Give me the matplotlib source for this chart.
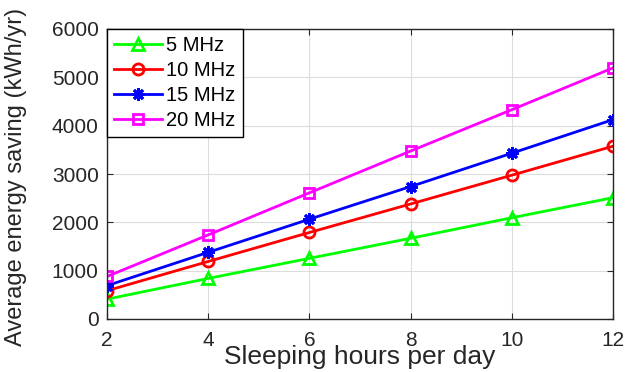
import matplotlib
matplotlib.use('Agg')
import matplotlib.pyplot as plt

plt.rcParams['font.family'] = ['Liberation Sans', 'DejaVu Sans']

hours = [2, 4, 6, 8, 10, 12]
saving_5 = [410, 840, 1255, 1670, 2095, 2510]
saving_10 = [585, 1190, 1790, 2380, 2975, 3575]
saving_15 = [690, 1380, 2065, 2740, 3430, 4125]
saving_20 = [880, 1740, 2610, 3475, 4330, 5195]
labels = ['5 MHz', '10 MHz', '15 MHz', '20 MHz']

fig = plt.figure(figsize=(6.43, 3.72), dpi=100)
ax = fig.add_axes([107/643, 1 - 319/372, 506/643, 290/372])

ax.plot(hours, saving_5, color='#00ff00', lw=2, marker='^', ms=9, mfc='none', mew=2, label=labels[0])
ax.plot(hours, saving_10, color='#ff0000', lw=2, marker='o', ms=8, mfc='none', mew=2, label=labels[1])
ax.plot(hours, saving_15, color='#0000ff', lw=2, marker=(8, 2, 0), ms=9, mew=2, label=labels[2])
ax.plot(hours, saving_20, color='#ff00ff', lw=2, marker='s', ms=7, mfc='none', mew=2, label=labels[3])

ax.set_xlim(2, 12)
ax.set_ylim(0, 6000)
ax.set_xticks(hours)
ax.set_yticks(range(0, 6001, 1000))
ax.grid(True, color='#dcdcdc', lw=0.8)
ax.set_axisbelow(True)

for s in ax.spines.values():
    s.set_color('#262626')
    s.set_linewidth(1)
ax.tick_params(direction='in', length=4, top=True, right=True, colors='#262626', labelsize=15)
ax.tick_params(axis='x', pad=9)
ax.tick_params(axis='y', pad=6)

ax.set_xlabel('Sleeping hours per day', fontsize=19, color='#262626')
ax.xaxis.label.set_va('baseline')
ax.xaxis.set_label_coords(0.5, -0.155)
ax.set_ylabel('Average energy saving (kWh/yr)', fontsize=17, color='#262626')
ax.yaxis.set_label_coords(-0.158, 0.49)

leg = ax.legend(loc='upper left', borderaxespad=0, fontsize=14.5, fancybox=False,
                edgecolor='black', framealpha=1, labelspacing=0.3,
                handlelength=2.4, handletextpad=0.2, borderpad=0.35)
leg.get_frame().set_linewidth(1)

fig.savefig('out.png', dpi=100)
